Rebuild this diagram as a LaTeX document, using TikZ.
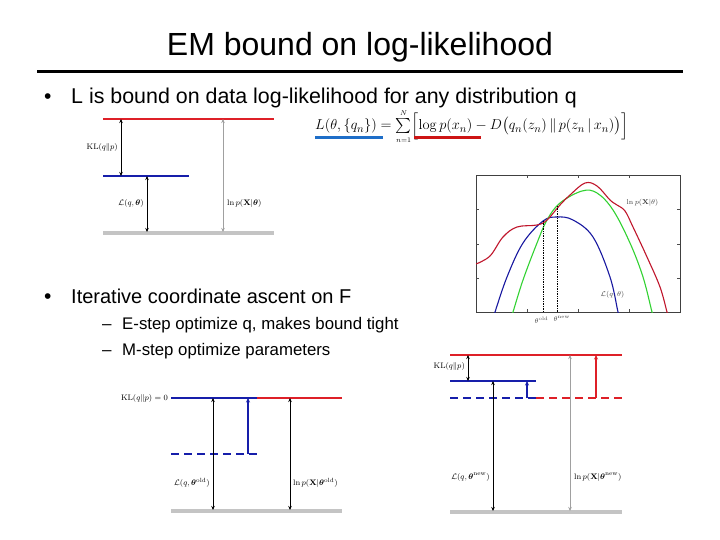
\documentclass[tikz,border=0pt]{standalone}
\usepackage{amsmath,amssymb}
\usepackage[no-math]{fontspec}
\setmainfont{Liberation Sans}
\usetikzlibrary{arrows.meta}
\definecolor{emred}{RGB}{222,32,40}
\definecolor{emblue}{RGB}{22,30,170}
\definecolor{embar}{RGB}{196,196,196}
\definecolor{embgray}{RGB}{160,160,160}
\definecolor{pred}{RGB}{192,22,44}
\definecolor{pgreen}{RGB}{50,210,50}
\definecolor{pblue}{RGB}{24,24,160}
\definecolor{ulblue}{RGB}{30,110,200}
\definecolor{ulred}{RGB}{205,20,20}
\tikzset{
  lvl/.style={line width=1.3pt},
  redl/.style={lvl, draw=emred},
  bluel/.style={lvl, draw=emblue},
  barl/.style={line width=4pt, draw=embar},
  dashl/.style={lvl, dash pattern=on 8pt off 5pt},
  dbl/.style={{Stealth[length=4pt,width=3.5pt]}-{Stealth[length=4pt,width=3.5pt]}, line width=0.9pt},
  upar/.style={-{Stealth[length=4.5pt,width=4pt]}, line width=1.1pt},
  lab/.style={font=\fontsize{8.5}{10}\selectfont, inner sep=1pt},
  plab/.style={font=\fontsize{7}{8}\selectfont, inner sep=0.5pt, text=black!75},
  txt/.style={anchor=base west, inner sep=0pt},
  curve/.style={line width=1.1pt, smooth, tension=0.6},
}
\begin{document}
\begin{tikzpicture}[x=1pt,y=-1pt]
\useasboundingbox[fill=white] (0,0) rectangle (720,540);

% Title and rule
\node[anchor=base, inner sep=0pt, font=\fontsize{32}{36}\selectfont] (title) at (360,56) {EM bound on log-likelihood};
\coordinate (ruleL) at (37,72);
\coordinate (ruleR) at (683,72);
\draw[line width=3pt] (ruleL) -- (ruleR);

% Bullets
\node[txt, font=\fontsize{21}{24}\selectfont] (b1) at (44,104) {•};
\node[txt, font=\fontsize{21.4}{24}\selectfont] (t1) at (71,104) {L is bound on data log-likelihood for any distribution q};
\node[txt, font=\fontsize{21}{24}\selectfont] (b2) at (44,303) {•};
\node[txt, font=\fontsize{20}{24}\selectfont] (t2) at (71,303) {Iterative coordinate ascent on F};
\node[txt, font=\fontsize{17}{20}\selectfont] (d1) at (102,329) {–};
\node[txt, font=\fontsize{16.8}{20}\selectfont] (s1) at (122,329) {E-step optimize q, makes bound tight};
\node[txt, font=\fontsize{17}{20}\selectfont] (d2) at (102,355) {–};
\node[txt, font=\fontsize{16.8}{20}\selectfont] (s2) at (122,355) {M-step optimize parameters};

% Formula
\node[anchor=base west, inner sep=0pt, font=\fontsize{15}{18}\selectfont] (formula) at (315,130)
  {$L(\theta,\{q_n\}) = \sum\limits_{\scriptscriptstyle n=1}^{\scriptscriptstyle N}\Bigl[\log p(x_n) - D\bigl(q_n(z_n)\,\|\,p(z_n\,|\,x_n)\bigr)\Bigr]$};
\coordinate (ubL) at (315,138); \coordinate (ubR) at (383,138);
\coordinate (urL) at (414,138); \coordinate (urR) at (481,138);
\draw[ulblue, line width=3pt] (ubL) -- (ubR);
\draw[ulred, line width=3pt] (urL) -- (urR);

% ---------- Top-left level diagram ----------
\coordinate (a1) at (103,119); \coordinate (a2) at (274,119);
\coordinate (a3) at (103,176); \coordinate (a4) at (189,176);
\coordinate (a5) at (103,233); \coordinate (a6) at (274,233);
\draw[barl] (a5) -- (a6);
\draw[redl] (a1) -- (a2);
\draw[bluel] (a3) -- (a4);
\coordinate (akt) at (121,119); \coordinate (akb) at (121,176);
\coordinate (alt) at (147,176); \coordinate (alb) at (147,232);
\coordinate (apt) at (223,119); \coordinate (apb) at (223,232);
\draw[dbl] (akt) -- (akb);
\draw[dbl] (alt) -- (alb);
\draw[dbl, embgray] (apt) -- (apb);
\node[lab, anchor=east] (akl) at (119,148) {$\mathrm{KL}(q\|p)$};
\node[lab, anchor=east] (all) at (145,204) {$\mathcal{L}(q,\boldsymbol{\theta})$};
\node[lab, anchor=west] (apl) at (226,204) {$\ln p(\mathbf{X}|\boldsymbol{\theta})$};

% ---------- Plot ----------
\coordinate (fr1) at (476,175); \coordinate (fr2) at (680,312);
\draw[black!75, line width=0.5pt] (fr1) rectangle (fr2);
\foreach \yy in {209.5,244,278.5}{
  \draw[black!70, line width=0.4pt] (476,\yy) -- (479,\yy);
  \draw[black!70, line width=0.4pt] (680,\yy) -- (677,\yy);
}
\foreach \xx in {527,578,629}{
  \draw[black!70, line width=0.4pt] (\xx,312) -- (\xx,309);
  \draw[black!70, line width=0.4pt] (\xx,175) -- (\xx,178);
}
\begin{scope}
\clip (fr1) rectangle (fr2);
\draw[curve, pblue] plot coordinates {(493,318) (495,312) (507,277) (523,243) (543,221) (557,217) (573,220) (593,237) (610,277) (618,312) (620,318)};
\draw[curve, pgreen] plot coordinates {(511,318) (513,312) (523,280) (537,243) (547,220) (560,203) (582,191) (597,193) (613,210) (630,243) (643,277) (652,312) (654,318)};
\draw[curve, pred] plot coordinates {(476,264) (490,256) (503,237) (517,227) (537,225) (547,220) (560,205) (570,195) (585,183) (597,186) (610,200) (617,205) (625,211) (633,227) (647,257) (660,287) (667,312) (669,318)};
\end{scope}
\coordinate (dot1t) at (543,221); \coordinate (dot1b) at (543,312);
\coordinate (dot2t) at (557,206); \coordinate (dot2b) at (557,312);
\draw[densely dotted, line width=0.7pt] (dot1t) -- (dot1b);
\draw[densely dotted, line width=0.7pt] (dot2t) -- (dot2b);
\node[plab, anchor=west] (plnp) at (626,203) {$\ln p(\mathbf{X}|\theta)$};
\node[plab, anchor=west] (pL) at (600,295) {$\mathcal{L}(q,\theta)$};
\node[plab, anchor=east] (pold) at (549,320) {$\theta^{\mathrm{old}}$};
\node[plab, anchor=west] (pnew) at (553,319) {$\theta^{\mathrm{new}}$};

% ---------- Bottom-left (E-step) ----------
\coordinate (c1) at (171,398); \coordinate (c2) at (257,398); \coordinate (c3) at (342,398);
\coordinate (c4) at (171,454); \coordinate (c5) at (257,454);
\coordinate (c6) at (171,511); \coordinate (c7) at (342,511);
\draw[barl] (c6) -- (c7);
\draw[bluel] (c1) -- (c2);
\draw[redl] (c2) -- (c3);
\draw[bluel, dashl] (c4) -- (c5);
\coordinate (cbt) at (248,398); \coordinate (cbb) at (248,454);
\draw[upar, emblue] (cbb) -- (cbt);
\coordinate (clt) at (213,398); \coordinate (clb) at (213,510);
\coordinate (cpt) at (290,398); \coordinate (cpb) at (290,510);
\draw[dbl] (clt) -- (clb);
\draw[dbl] (cpt) -- (cpb);
\node[lab, anchor=east] (ckl) at (169,398) {$\mathrm{KL}(q\|p)=0$};
\node[lab, anchor=east] (cll) at (211,483) {$\mathcal{L}(q,\boldsymbol{\theta}^{\mathrm{old}})$};
\node[lab, anchor=west] (cpl) at (292,483) {$\ln p(\mathbf{X}|\boldsymbol{\theta}^{\mathrm{old}})$};

% ---------- Bottom-right (M-step) ----------
\coordinate (e1) at (450,355); \coordinate (e2) at (622,355);
\coordinate (e3) at (450,381); \coordinate (e4) at (536,381);
\coordinate (e5) at (450,398); \coordinate (e6) at (536,398); \coordinate (e7) at (622,398);
\coordinate (e8) at (450,512); \coordinate (e9) at (622,512);
\draw[barl] (e8) -- (e9);
\draw[redl] (e1) -- (e2);
\draw[bluel] (e3) -- (e4);
\draw[bluel, dashl] (e5) -- (e6);
\draw[redl, dashl] (e6) -- (e7);
\coordinate (ekt) at (468,355); \coordinate (ekb) at (468,381);
\draw[dbl] (ekt) -- (ekb);
\coordinate (ebt) at (527,381); \coordinate (ebb) at (527,398);
\draw[upar, emblue] (ebb) -- (ebt);
\coordinate (ert) at (596,355); \coordinate (erb) at (596,398);
\draw[upar, emred] (erb) -- (ert);
\coordinate (elt) at (493,381); \coordinate (elb) at (493,511);
\coordinate (ept) at (570,355); \coordinate (epb) at (570,511);
\draw[dbl] (elt) -- (elb);
\draw[dbl, embgray] (ept) -- (epb);
\node[lab, anchor=east] (ekl) at (466,366) {$\mathrm{KL}(q\|p)$};
\node[lab, anchor=east] (ell) at (491,477) {$\mathcal{L}(q,\boldsymbol{\theta}^{\mathrm{new}})$};
\node[lab, anchor=west] (epl) at (573,477) {$\ln p(\mathbf{X}|\boldsymbol{\theta}^{\mathrm{new}})$};
\end{tikzpicture}
\end{document}
